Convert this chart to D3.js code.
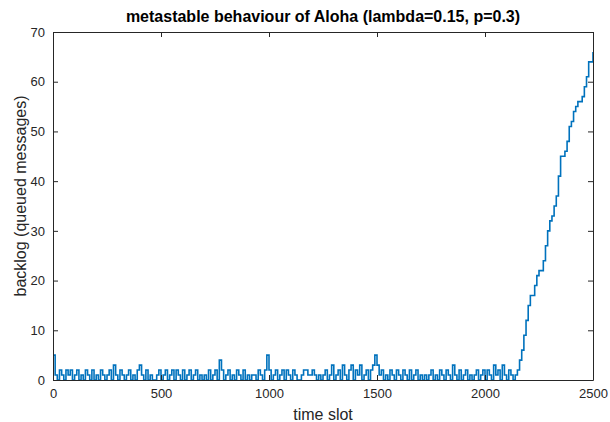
<!DOCTYPE html>
<html>
<head>
<meta charset="utf-8">
<script src="https://cdn.jsdelivr.net/npm/d3@7"></script>
<style>
  html, body { margin: 0; padding: 0; background: #fff; }
  svg { display: block; }
</style>
</head>
<body>
<svg id="chart" width="610" height="422"></svg>
<script>
// ---- data ----
const title = "metastable behaviour of Aloha (lambda=0.15, p=0.3)";
const xLabel = "time slot";
const yLabel = "backlog (queued messages)";
const xTicks = [0, 500, 1000, 1500, 2000, 2500];
const yTicks = [0, 10, 20, 30, 40, 50, 60, 70];

// backlog sampled every 10 slots, slots 0 .. 2140 (stable regime)
const lowStep = 10;
const lowBacklog = [
  5,1,0,2,1,0,2,1,2,0,
  1,2,0,1,0,2,1,0,2,0,
  1,0,2,1,0,1,2,0,3,1,
  0,2,1,0,1,2,0,1,0,2,
  3,1,0,2,0,1,0,0,1,2,
  0,1,2,0,1,2,0,2,1,0,
  2,0,1,2,0,1,2,0,1,0,
  1,0,2,0,1,2,0,4,2,0,
  1,2,0,1,0,2,1,0,2,0,
  1,0,1,1,0,2,1,0,2,5,
  2,0,1,2,0,1,2,0,2,1,
  0,2,1,0,0,1,2,2,1,1,
  2,1,0,1,0,1,2,0,1,3,
  0,1,2,0,3,1,0,2,3,0,
  2,1,3,0,1,2,0,2,3,5,
  3,1,2,0,1,0,2,1,0,2,
  1,0,2,1,0,2,0,1,2,0,
  1,0,1,0,1,2,0,1,0,2,
  1,0,2,1,0,3,1,0,2,0,
  1,2,0,1,0,1,2,0,1,2,
  0,2,1,0,3,1,2,0,3,1,
  0,2,1,0,1
];

// unstable regime: slot and backlog
const riseSlots = [2150,2160,2170,2180,2190,2200,2210,2220,2230,2240,2250,2260,2270,2280,2290,2300,2310,2320,2330,2340,2350,2360,2370,2380,2390,2400,2410,2420,2430,2440,2450,2460,2470,2480,2490,2500];
const riseBacklog = [2,4,6,9,12,15,17,17,19,21,22,22,24,27,30,32,33,35,37,41,45,45,46,48,51,52,54,55,56,56,57,59,61,64,64,66];

// ---- build series ----
const series = lowBacklog.map((v, i) => ({ t: i * lowStep, v }))
  .concat(riseSlots.map((t, i) => ({ t, v: riseBacklog[i] })));

// ---- layout ----
const svg = d3.select("#chart");
const m = { left: 53, right: 593, top: 32, bottom: 380 };
const x = d3.scaleLinear().domain([0, 2500]).range([m.left, m.right]);
const y = d3.scaleLinear().domain([0, 70]).range([m.bottom, m.top]);
const axisColor = "#262626";
const font = "Arial, 'Liberation Sans', Helvetica, sans-serif";

// data line (clipped to axes)
svg.append("clipPath").attr("id", "clip")
  .append("rect").attr("x", m.left).attr("y", m.top - 2)
  .attr("width", m.right - m.left).attr("height", m.bottom - m.top + 2);

svg.append("path")
  .datum(series)
  .attr("clip-path", "url(#clip)")
  .attr("fill", "none")
  .attr("stroke", "#0072BD")
  .attr("stroke-width", 1.6)
  .attr("stroke-linejoin", "miter")
  .attr("d", d3.line().curve(d3.curveStepAfter).x(d => x(d.t)).y(d => y(d.v)));

// axes
const tickLen = 5;
const bottomAxis = d3.axisBottom(x).tickValues(xTicks).tickFormat(d3.format("d")).tickSizeInner(-tickLen).tickSizeOuter(0).tickPadding(9);
const leftAxis = d3.axisLeft(y).tickValues(yTicks).tickFormat(d3.format("d")).tickSizeInner(-tickLen).tickSizeOuter(0).tickPadding(8);
const topAxis = d3.axisTop(x).tickValues(xTicks).tickFormat("").tickSizeInner(-tickLen).tickSizeOuter(0);
const rightAxis = d3.axisRight(y).tickValues(yTicks).tickFormat("").tickSizeInner(-tickLen).tickSizeOuter(0);

function styleAxis(g) {
  g.selectAll(".domain").attr("stroke", axisColor).attr("stroke-width", 1);
  g.selectAll(".tick line").attr("stroke", axisColor).attr("stroke-width", 1);
  g.selectAll(".tick text").attr("fill", axisColor).style("font-family", font).style("font-size", "13px");
}

svg.append("g").attr("transform", `translate(0,${m.bottom})`).call(bottomAxis).call(styleAxis);
svg.append("g").attr("transform", `translate(${m.left},0)`).call(leftAxis).call(styleAxis);
svg.append("g").attr("transform", `translate(0,${m.top})`).call(topAxis).call(styleAxis);
svg.append("g").attr("transform", `translate(${m.right},0)`).call(rightAxis).call(styleAxis);

// title
svg.append("text")
  .attr("x", (m.left + m.right) / 2).attr("y", 22)
  .attr("text-anchor", "middle")
  .style("font-family", font).style("font-size", "16px").style("font-weight", "bold")
  .attr("fill", "#000")
  .text(title);

// x label
svg.append("text")
  .attr("x", (m.left + m.right) / 2).attr("y", 420)
  .attr("text-anchor", "middle")
  .style("font-family", font).style("font-size", "16px")
  .attr("fill", axisColor)
  .text(xLabel);

// y label
svg.append("text")
  .attr("transform", `translate(26,196) rotate(-90)`)
  .attr("text-anchor", "middle")
  .style("font-family", font).style("font-size", "16px")
  .attr("fill", axisColor)
  .text(yLabel);
</script>
</body>
</html>
